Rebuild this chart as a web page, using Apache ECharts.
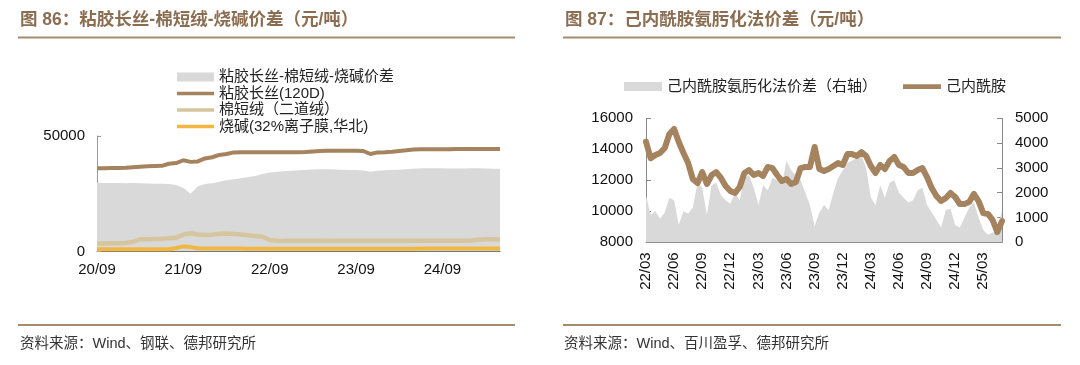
<!DOCTYPE html>
<html>
<head>
<meta charset="utf-8">
<script src="https://cdn.jsdelivr.net/npm/echarts@6/dist/echarts.min.js"></script>
<style>
html, body { margin: 0; padding: 0; background: #fff; }
#chart { width: 1080px; height: 365px; }
</style>
</head>
<body>
<div id="chart"></div>
<script>
// 左图：月度，2020-09 ~ 2025-05
const leftStart = [2020, 9];
const leftCount = 57;
const spreadLeft = [29800, 29700, 29600, 29700, 29500, 29600, 29500, 29400, 29300, 29300,
    29200, 28800, 27500, 25000, 28200, 29200, 29500, 30200, 30800, 31300,
    31700, 32200, 32700, 33500, 34200, 34500, 34700, 35000, 35200, 35300,
    35500, 35600, 35600, 35500, 35400, 35300, 35300, 35100, 34500, 35000,
    35200, 35300, 35400, 35600, 35800, 36000, 36000, 36000, 36000, 35900,
    35900, 35900, 36000, 36000, 35900, 35800, 35800];
const viscose = [36000, 36000, 36100, 36200, 36300, 36500, 36700, 36900, 37000, 37100,
    38000, 38300, 39500, 38800, 39000, 40300, 40800, 41800, 42200, 42900,
    43000, 43000, 43000, 43000, 43000, 43000, 43000, 43000, 43000, 43100,
    43300, 43500, 43600, 43600, 43600, 43600, 43600, 43500, 42200, 42900,
    43000, 43200, 43500, 43800, 44200, 44300, 44300, 44300, 44300, 44300,
    44400, 44400, 44400, 44400, 44400, 44400, 44400];
const linter = [3500, 3500, 3600, 3600, 3700, 4200, 5300, 5300, 5400, 5500,
    5700, 6000, 7300, 7900, 7400, 7100, 7300, 7700, 7800, 7600,
    7400, 7000, 6700, 6400, 5000, 4700, 4600, 4600, 4600, 4600,
    4600, 4600, 4600, 4700, 4700, 4700, 4700, 4700, 4700, 4700,
    4700, 4700, 4700, 4700, 4700, 4700, 4700, 4700, 4700, 4700,
    4700, 4700, 4800, 5100, 5300, 5300, 5200];
const soda = [950, 950, 950, 950, 950, 950, 950, 1000, 1000, 1000,
    1000, 1500, 2200, 1900, 1400, 1300, 1300, 1300, 1300, 1300,
    1300, 1200, 1200, 1200, 1200, 1200, 1200, 1200, 1200, 1200,
    1200, 1200, 1200, 1200, 1200, 1200, 1200, 1200, 1200, 1200,
    1200, 1200, 1200, 1200, 1200, 1300, 1300, 1300, 1300, 1300,
    1300, 1300, 1300, 1300, 1300, 1300, 1300];

// 右图：半月度，2022-03-01 ~ 2025-05-01
const rightStart = [2022, 3];
const rightCount = 77;
const capro = [14490, 13420, 13630, 13760, 14080, 14990, 15310, 14470, 13760, 13110,
    12080, 11820, 12530, 11760, 12340, 12530, 12150, 11630, 11310, 11180,
    11570, 12470, 12660, 12340, 12470, 12280, 12860, 12790, 12340, 11950,
    12080, 11760, 11890, 12790, 12860, 12860, 14150, 12730, 12600, 12730,
    12920, 13110, 12990, 13690, 13690, 13570, 13820, 13570, 12920, 12470,
    12990, 12730, 13240, 13500, 12990, 12860, 12470, 12470, 12660, 12790,
    12210, 11500, 10990, 10660, 10860, 11180, 10920, 10470, 10470, 10600,
    11120, 10660, 9880, 9830, 9440, 8660, 9370];
const caproSpread = [1900, 1100, 1250, 950, 1200, 1800, 1700, 700, 1250, 1150,
    1400, 2400, 2200, 1100, 2300, 2400, 1900, 1700, 1550, 2000,
    1700, 2600, 2700, 2200, 1500, 2300, 2100, 2600, 2500, 2300,
    3300, 2900, 2700, 2500, 2000, 1500, 650, 1200, 1500, 1300,
    2000, 2600, 2900, 3200, 3300, 3400, 3500, 3000, 1800, 1500,
    2300, 1800, 2400, 2500, 2000, 1800, 1600, 1700, 2100, 2200,
    1500, 1200, 900, 600, 1300, 1350, 700, 600, 1000, 1400,
    1600, 1000, 500, 300, 400, 450, 1300];

const pad = n => (n < 10 ? '0' : '') + n;

const monthsLeft = [];
for (let i = 0; i < leftCount; i++) {
    const m = leftStart[1] - 1 + i;
    monthsLeft.push((leftStart[0] + Math.floor(m / 12)) + '-' + pad(m % 12 + 1));
}
const daysRight = [];
for (let i = 0; i < rightCount; i++) {
    const m = rightStart[1] - 1 + Math.floor(i / 2);
    daysRight.push((rightStart[0] + Math.floor(m / 12)) + '-' + pad(m % 12 + 1) + (i % 2 ? '-16' : '-01'));
}
const isQuarter = (idx, val) => val.slice(8) === '01' && (+val.slice(5, 7)) % 3 === 0;
const shortDate = val => val.slice(2, 4) + '/' + val.slice(5, 7);
const plainNum = v => String(v);

const font = '"Liberation Sans", Arial, "Noto Sans CJK SC", sans-serif';
const brown = '#a5835f';
const lineIcon = 'path://M0,0L40,0L40,4L0,4Z';
const lineIcon5 = 'path://M0,0L40,0L40,5L0,5Z';

const chart = echarts.init(document.getElementById('chart'));
const option = {
    backgroundColor: '#fff',
    animation: false,
    textStyle: { fontFamily: font },
    title: [
        {
            text: '图 86：粘胶长丝-棉短绒-烧碱价差（元/吨）',
            left: 15, top: 6,
            textStyle: { color: '#8b6e52', fontSize: 17.5, fontWeight: 'bold', fontFamily: font }
        },
        {
            text: '图 87：己内酰胺氨肟化法价差（元/吨）',
            left: 560, top: 6,
            textStyle: { color: '#8b6e52', fontSize: 17.5, fontWeight: 'bold', fontFamily: font }
        },
        {
            text: '资料来源：Wind、钢联、德邦研究所',
            left: 15, top: 332,
            textStyle: { color: '#333', fontSize: 14.5, fontWeight: 'normal', fontFamily: font }
        },
        {
            text: '资料来源：Wind、百川盈孚、德邦研究所',
            left: 559, top: 332,
            textStyle: { color: '#333', fontSize: 14.5, fontWeight: 'normal', fontFamily: font }
        }
    ],
    graphic: [
        { type: 'line', shape: { x1: 18, y1: 37.5, x2: 515, y2: 37.5 }, style: { stroke: '#a88b6e', lineWidth: 2 } },
        { type: 'line', shape: { x1: 563, y1: 37.5, x2: 1061, y2: 37.5 }, style: { stroke: '#a88b6e', lineWidth: 2 } },
        { type: 'line', shape: { x1: 18, y1: 325, x2: 515, y2: 325 }, style: { stroke: '#a88b6e', lineWidth: 2 } },
        { type: 'line', shape: { x1: 563, y1: 325, x2: 1061, y2: 325 }, style: { stroke: '#a88b6e', lineWidth: 2 } }
    ],
    legend: [
        {
            orient: 'vertical',
            left: 172, top: 64.5,
            itemWidth: 37, itemHeight: 9, itemGap: 1.5,
            textStyle: { fontSize: 15, color: '#222', fontFamily: font, lineHeight: 15 },
            data: [
                { name: '粘胶长丝-棉短绒-烧碱价差', icon: 'rect' },
                { name: '粘胶长丝(120D)', icon: lineIcon },
                { name: '棉短绒（二道绒）', icon: lineIcon },
                { name: '烧碱(32%离子膜,华北)', icon: lineIcon }
            ]
        },
        {
            orient: 'horizontal',
            left: 619, top: 74,
            itemWidth: 38, itemHeight: 9, itemGap: 26,
            textStyle: { fontSize: 15, color: '#222', fontFamily: font },
            data: [
                { name: '己内酰胺氨肟化法价差（右轴）', icon: 'rect' },
                { name: '己内酰胺', icon: lineIcon5 }
            ]
        }
    ],
    grid: [
        { left: 97, right: 580, top: 136, bottom: 113.5 },
        { left: 646, right: 78, top: 118.3, bottom: 122.7 }
    ],
    xAxis: [
        {
            gridIndex: 0,
            type: 'category',
            boundaryGap: false,
            data: monthsLeft,
            axisLine: { lineStyle: { color: '#555', width: 1 } },
            axisTick: { show: false },
            axisLabel: { interval: 11, formatter: shortDate, color: '#111', fontSize: 15, margin: 11 }
        },
        {
            gridIndex: 1,
            type: 'category',
            boundaryGap: false,
            data: daysRight,
            axisLine: { lineStyle: { color: '#888', width: 1 } },
            axisTick: { show: true, inside: true, length: 4, interval: isQuarter, lineStyle: { color: '#888' } },
            axisLabel: { interval: isQuarter, formatter: shortDate, rotate: 90, color: '#111', fontSize: 15, margin: 10 }
        }
    ],
    yAxis: [
        {
            gridIndex: 0,
            type: 'value',
            min: 0, max: 50000, interval: 50000,
            axisLine: { show: true, lineStyle: { color: '#999' } },
            axisTick: { show: true, inside: true, length: 4, lineStyle: { color: '#999' } },
            splitLine: { show: false },
            axisLabel: { color: '#111', fontSize: 15, margin: 12, formatter: plainNum }
        },
        {
            gridIndex: 1,
            type: 'value',
            min: 8000, max: 16000, interval: 2000,
            axisLine: { show: true, lineStyle: { color: '#888' } },
            axisTick: { show: true, inside: true, length: 5, lineStyle: { color: '#888' } },
            splitLine: { show: false },
            axisLabel: { color: '#111', fontSize: 15, margin: 13, formatter: plainNum }
        },
        {
            gridIndex: 1,
            type: 'value',
            position: 'right',
            min: 0, max: 5000, interval: 1000,
            axisLine: { show: true, lineStyle: { color: '#888' } },
            axisTick: { show: true, inside: true, length: 5, lineStyle: { color: '#888' } },
            splitLine: { show: false },
            axisLabel: { color: '#111', fontSize: 15, margin: 13, formatter: plainNum }
        }
    ],
    series: [
        {
            name: '粘胶长丝-棉短绒-烧碱价差',
            type: 'line',
            xAxisIndex: 0, yAxisIndex: 0,
            data: spreadLeft,
            symbol: 'none',
            color: '#d9d9d9',
            lineStyle: { width: 0 },
            areaStyle: { color: '#d9d9d9', opacity: 1 }
        },
        {
            name: '粘胶长丝(120D)',
            type: 'line',
            xAxisIndex: 0, yAxisIndex: 0,
            data: viscose,
            symbol: 'none',
            color: brown,
            lineStyle: { width: 4, color: brown }
        },
        {
            name: '棉短绒（二道绒）',
            type: 'line',
            xAxisIndex: 0, yAxisIndex: 0,
            data: linter,
            symbol: 'none',
            color: '#d6c69f',
            lineStyle: { width: 4.5, color: '#d6c69f' }
        },
        {
            name: '烧碱(32%离子膜,华北)',
            type: 'line',
            xAxisIndex: 0, yAxisIndex: 0,
            data: soda,
            symbol: 'none',
            color: '#f0b843',
            lineStyle: { width: 4, color: '#f0b843' }
        },
        {
            name: '己内酰胺氨肟化法价差（右轴）',
            type: 'line',
            xAxisIndex: 1, yAxisIndex: 2,
            data: caproSpread,
            symbol: 'none',
            color: '#d9d9d9',
            lineStyle: { width: 0 },
            areaStyle: { color: '#d9d9d9', opacity: 1 }
        },
        {
            name: '己内酰胺',
            type: 'line',
            xAxisIndex: 1, yAxisIndex: 1,
            data: capro,
            symbol: 'none',
            color: brown,
            lineStyle: { width: 6, color: brown, join: 'round', cap: 'round' }
        }
    ]
};
chart.setOption(option);
</script>
</body>
</html>
